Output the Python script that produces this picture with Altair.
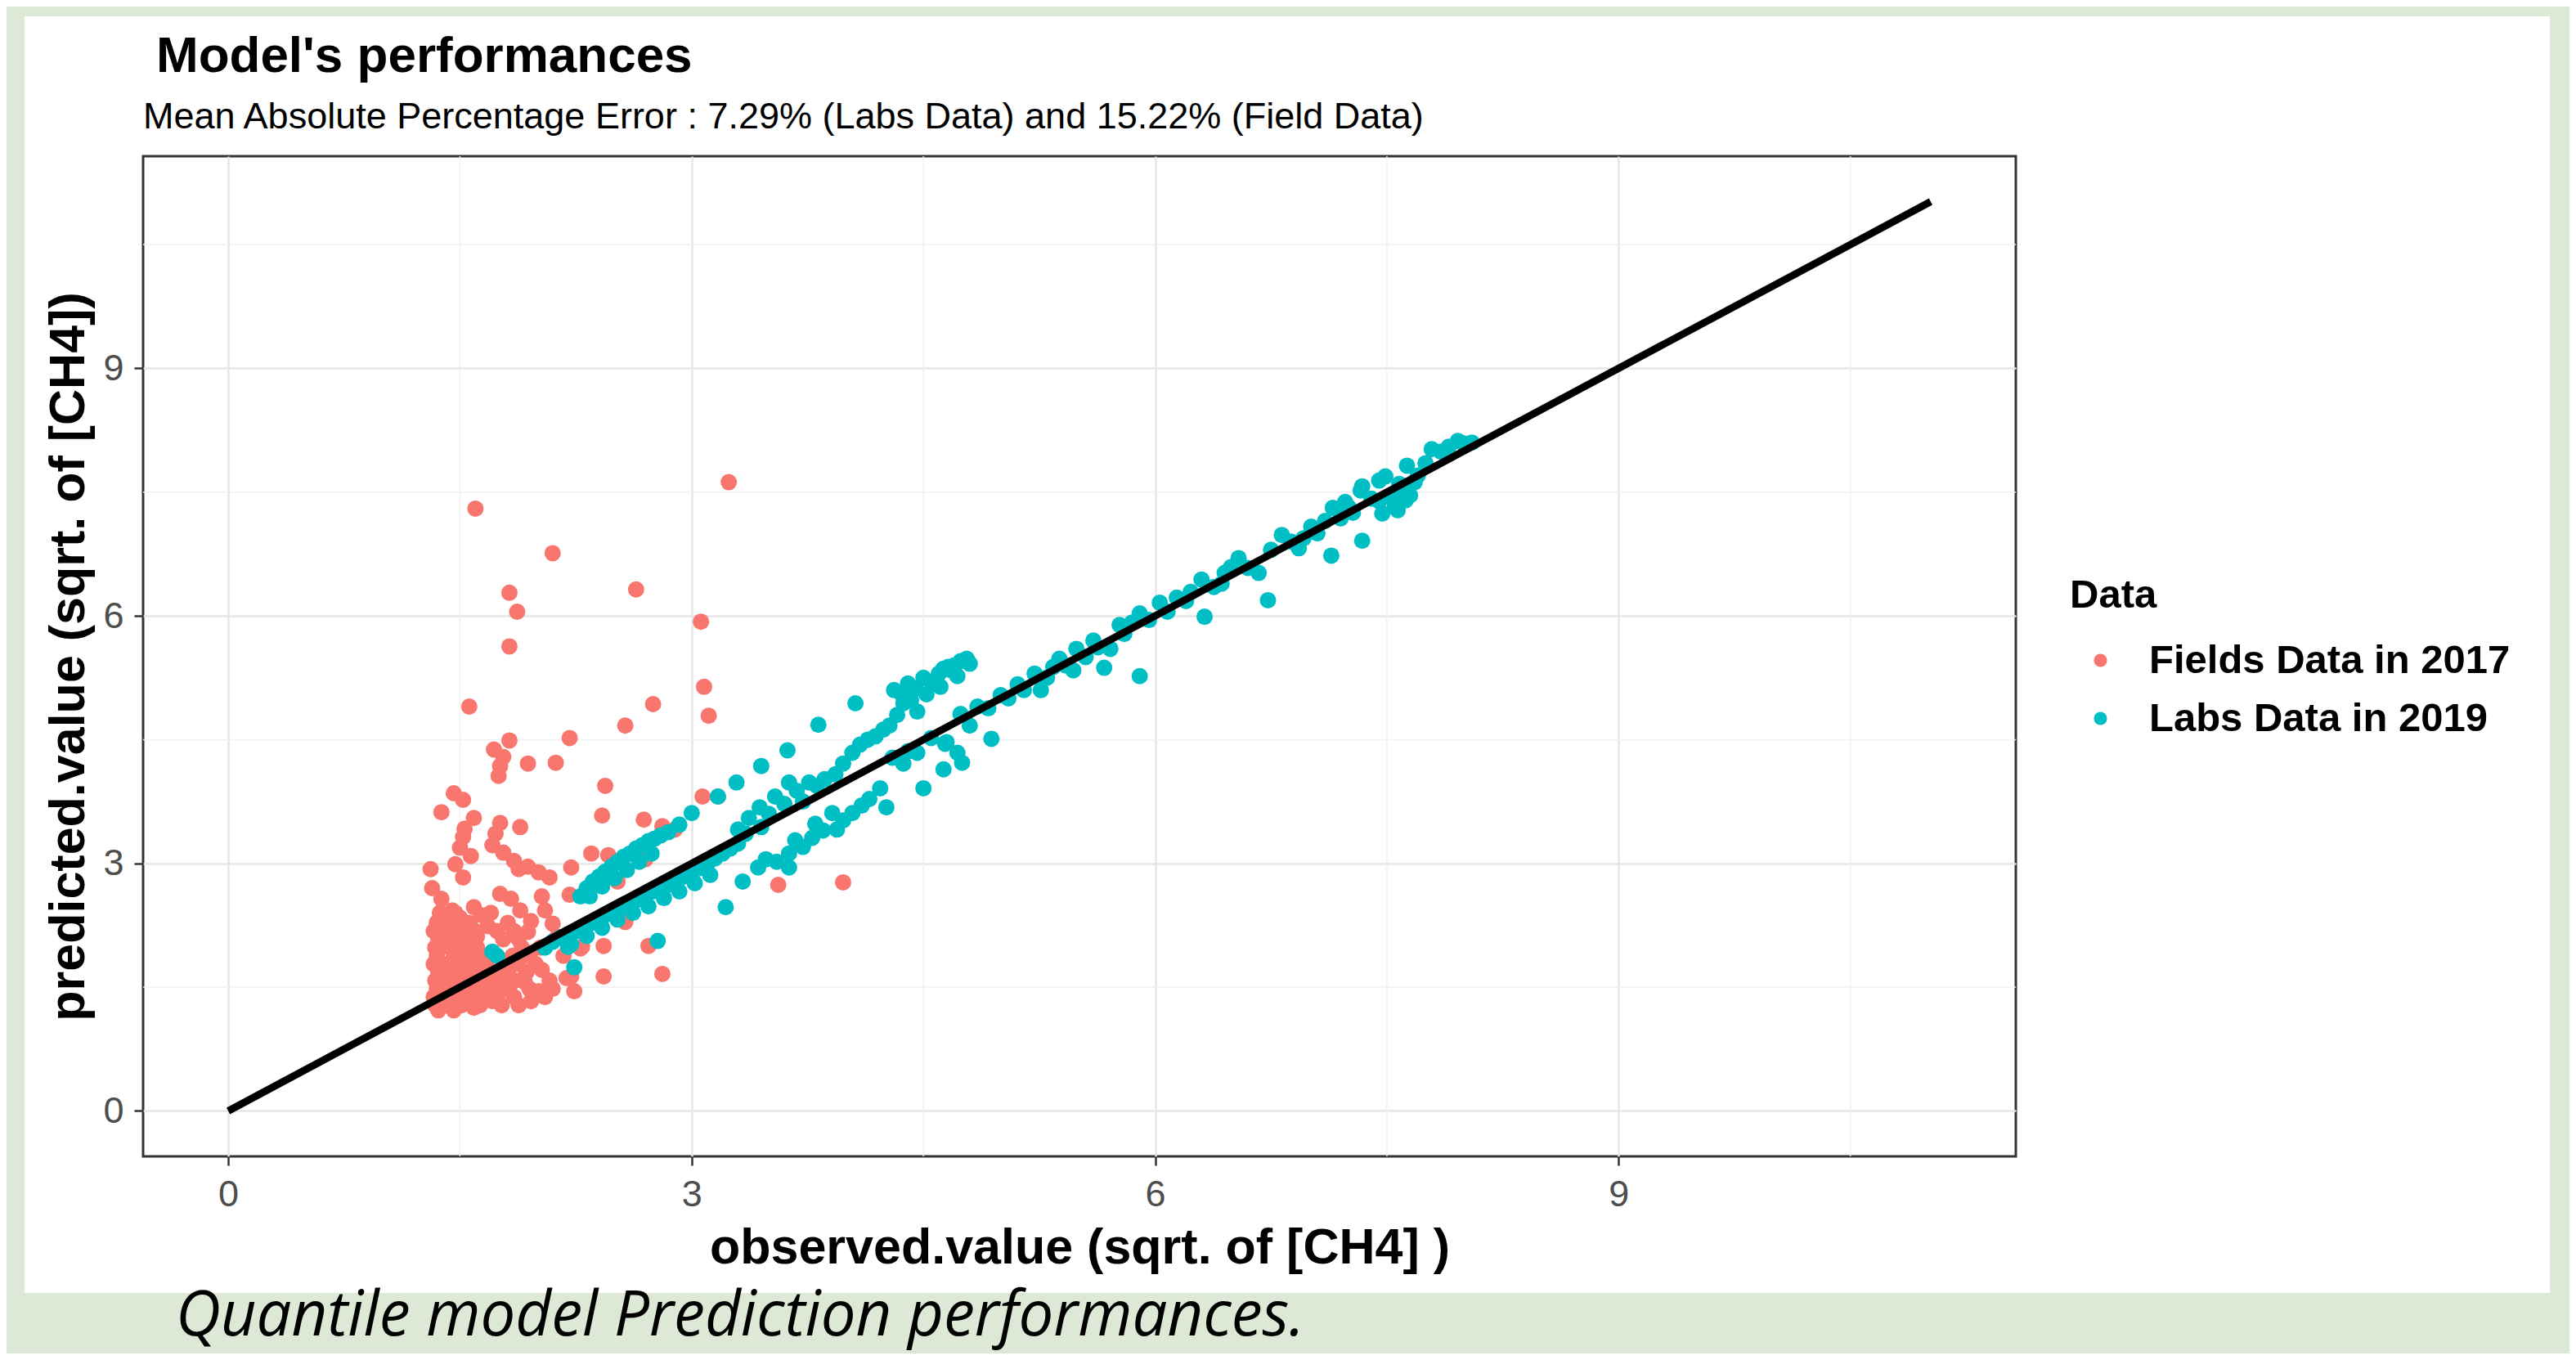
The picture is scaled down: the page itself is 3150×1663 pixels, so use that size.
import altair as alt
import pandas as pd

# ---------------- data ----------------
series_names = ["Fields Data in 2017", "Labs Data in 2019"]
series_colors = ["#F8766D", "#00BFC4"]

field_points = [
    (1.60, 7.30), (3.24, 7.62), (2.10, 6.76), (1.82, 6.28), (2.64, 6.32), (1.87, 6.05),
    (3.06, 5.93), (1.82, 5.63), (3.08, 5.14), (3.11, 4.79), (2.75, 4.93), (1.56, 4.90),
    (2.57, 4.67), (2.21, 4.52), (1.82, 4.49), (1.72, 4.38), (1.78, 4.29), (1.76, 4.18),
    (1.75, 4.06), (1.94, 4.21), (2.12, 4.22), (2.44, 3.94), (2.42, 3.58), (2.69, 3.53),
    (3.07, 3.81), (3.17, 3.81), (2.81, 3.45), (2.89, 3.41), (2.35, 3.12), (2.46, 3.10),
    (2.22, 2.95), (2.70, 3.05), (2.21, 2.62), (2.52, 2.78), (2.57, 2.29), (2.29, 1.99),
    (2.43, 2.00), (2.72, 2.00), (3.56, 2.74), (3.98, 2.77), (2.43, 1.63), (2.81, 1.66),
    (2.22, 1.63), (1.46, 3.85), (1.52, 3.77), (1.38, 3.62), (1.59, 3.55), (1.53, 3.42),
    (1.52, 3.32), (1.50, 3.19), (1.57, 3.09), (1.47, 2.99), (1.52, 2.83), (1.76, 3.49),
    (1.73, 3.36), (1.71, 3.22), (1.78, 3.13), (1.89, 3.44), (1.85, 3.03), (1.94, 2.96),
    (2.01, 2.89), (2.08, 2.83), (1.88, 2.93), (1.31, 2.93), (1.32, 2.70), (1.38, 2.57),
    (1.45, 2.43), (1.50, 2.34), (1.59, 2.47), (1.64, 2.37), (1.68, 2.24), (1.61, 2.11),
    (1.76, 2.63), (1.83, 2.57), (1.89, 2.43), (1.96, 2.30), (2.03, 2.60), (2.05, 2.43),
    (1.94, 2.17), (2.10, 2.27), (2.13, 2.11), (2.17, 1.88), (2.28, 1.97), (2.19, 1.61),
    (2.24, 1.45), (1.36, 1.22), (1.46, 1.22), (1.59, 1.25), (1.71, 1.33), (1.82, 1.46),
    (1.92, 1.56), (2.01, 1.45), (1.96, 1.33), (2.03, 1.71),
    (1.34, 1.28), (1.42, 1.28), (1.51, 1.28), (1.63, 1.28), (1.77, 1.28), (1.88, 1.28),
    (1.33, 1.38), (1.40, 1.38), (1.48, 1.38), (1.56, 1.38), (1.66, 1.38), (1.74, 1.38),
    (1.85, 1.38), (2.05, 1.38), (1.35, 1.48), (1.43, 1.48), (1.52, 1.48), (1.61, 1.48),
    (1.70, 1.48), (1.79, 1.48), (1.95, 1.48), (2.10, 1.48), (1.34, 1.58), (1.41, 1.58),
    (1.49, 1.58), (1.57, 1.58), (1.68, 1.58), (1.76, 1.58), (1.86, 1.58), (2.08, 1.58),
    (1.36, 1.68), (1.44, 1.68), (1.53, 1.68), (1.62, 1.68), (1.72, 1.68), (1.81, 1.68),
    (1.93, 1.68), (1.33, 1.78), (1.42, 1.78), (1.50, 1.78), (1.59, 1.78), (1.67, 1.78),
    (1.88, 1.78), (1.99, 1.78), (1.35, 1.88), (1.46, 1.88), (1.54, 1.88), (1.63, 1.88),
    (1.84, 1.88), (1.95, 1.88), (1.34, 1.98), (1.43, 1.98), (1.52, 1.98), (1.61, 1.98),
    (1.90, 1.98), (2.02, 1.98), (1.36, 2.08), (1.45, 2.08), (1.55, 2.08), (1.78, 2.08),
    (1.88, 2.08), (1.33, 2.18), (1.42, 2.18), (1.51, 2.18), (1.60, 2.18), (1.74, 2.18),
    (1.85, 2.18), (1.35, 2.28), (1.44, 2.28), (1.56, 2.28), (1.81, 2.28), (1.37, 2.40),
    (1.47, 2.40), (1.70, 2.40),
]

lab_points = [
    (1.71, 1.93), (1.74, 1.88), (2.24, 1.74), (2.20, 1.99), (2.78, 2.06),
    (2.28, 2.60), (2.32, 2.70), (2.36, 2.78), (2.40, 2.84), (2.44, 2.90), (2.48, 2.96),
    (2.52, 3.02), (2.56, 3.08), (2.60, 3.12), (2.64, 3.18), (2.68, 3.22), (2.72, 3.27),
    (2.76, 3.30), (2.80, 3.34), (2.85, 3.38), (2.34, 2.60), (2.42, 2.72), (2.50, 2.82),
    (2.58, 2.92), (2.66, 3.02), (2.74, 3.12),
    (2.92, 3.47), (3.00, 3.61), (3.17, 3.81), (3.29, 3.98), (3.45, 4.18), (3.62, 4.37),
    (3.82, 4.68), (4.06, 4.94),
    (3.30, 3.41), (3.37, 3.55), (3.44, 3.68), (3.54, 3.81), (3.63, 3.98), (3.72, 3.75),
    (3.81, 3.94), (3.93, 4.08), (3.98, 4.21), (3.50, 3.60), (3.60, 3.72), (3.68, 3.88),
    (3.76, 3.98), (3.86, 4.02),
    (4.04, 4.34), (4.09, 4.44), (4.19, 4.54), (4.28, 4.67), (4.37, 4.94), (4.46, 4.84),
    (4.31, 5.10), (4.36, 5.05), (4.40, 5.18), (4.45, 5.12), (4.50, 5.25), (4.55, 5.20),
    (4.60, 5.30), (4.63, 5.36), (4.66, 5.38), (4.70, 5.40), (4.74, 5.45), (4.78, 5.48),
    (4.80, 5.42), (4.72, 5.27), (4.68, 5.34), (4.61, 5.14), (4.52, 5.05), (4.42, 4.98),
    (4.33, 4.80), (4.24, 4.62), (4.14, 4.50),
    (4.37, 4.21), (4.46, 4.34), (4.63, 4.14), (4.65, 4.47), (4.72, 4.34), (4.80, 4.67),
    (4.64, 4.45), (4.75, 4.22), (4.94, 4.51), (4.74, 4.81), (4.50, 3.91), (4.30, 4.28),
    (4.40, 4.36), (4.55, 4.52), (3.35, 3.36), (3.45, 3.44),
    (4.22, 3.91), (4.26, 3.68), (4.15, 3.78), (4.04, 3.61), (3.94, 3.41), (3.91, 3.61),
    (3.80, 3.48), (3.78, 3.31), (3.67, 3.28), (3.63, 3.12), (3.63, 2.95), (3.48, 3.05),
    (3.43, 2.95), (3.33, 2.78), (3.22, 2.47), (4.10, 3.70), (3.98, 3.52), (3.85, 3.40),
    (3.72, 3.20), (3.55, 3.02),
    (2.05, 1.98), (2.10, 2.05), (2.15, 2.10), (2.20, 2.14), (2.25, 2.18), (2.30, 2.24),
    (2.35, 2.28), (2.40, 2.33), (2.45, 2.38), (2.50, 2.43), (2.55, 2.47), (2.60, 2.52),
    (2.65, 2.56), (2.70, 2.61), (2.75, 2.66), (2.80, 2.70), (2.85, 2.74), (2.90, 2.78),
    (2.95, 2.84), (3.00, 2.89), (3.05, 2.94), (3.10, 2.99), (3.15, 3.06), (3.20, 3.12),
    (3.25, 3.18), (3.30, 3.24), (2.22, 2.02), (2.32, 2.12), (2.42, 2.22), (2.52, 2.32),
    (2.62, 2.40), (2.72, 2.48), (2.82, 2.58), (2.92, 2.66), (3.02, 2.76), (3.12, 2.86),
    (5.00, 5.04), (5.11, 5.17), (5.22, 5.30), (5.26, 5.10), (5.38, 5.48), (5.49, 5.60),
    (5.47, 5.34), (5.60, 5.70), (5.67, 5.37), (5.71, 5.60), (5.77, 5.89), (5.90, 5.27),
    (5.90, 6.03), (6.03, 6.16), (6.14, 6.22), (6.23, 6.29), (6.30, 6.44), (6.32, 5.99),
    (6.43, 6.39), (6.54, 6.70), (6.49, 6.59), (6.67, 6.52), (6.73, 6.19), (6.82, 6.98),
    (6.93, 6.82), (7.01, 7.08), (7.14, 6.73), (7.15, 7.31), (7.23, 7.38), (7.34, 6.91),
    (7.34, 7.57), (7.45, 7.64), (7.47, 7.24),
    (4.85, 4.90), (4.92, 4.88), (5.05, 5.00), (5.15, 5.10), (5.30, 5.25), (5.34, 5.38),
    (5.42, 5.40), (5.55, 5.50), (5.63, 5.62), (5.80, 5.78), (5.85, 5.92), (5.96, 5.95),
    (6.08, 6.05), (6.20, 6.18), (6.38, 6.35), (6.45, 6.52), (6.60, 6.58), (6.75, 6.80),
    (6.88, 6.90), (6.96, 6.94), (7.05, 7.00), (7.10, 7.15), (7.20, 7.18), (7.28, 7.25),
    (7.40, 7.42),
    (7.33, 7.52), (7.49, 7.69), (7.63, 7.82), (7.79, 8.02), (7.96, 8.12), (7.55, 7.32),
    (7.65, 7.46), (7.45, 7.39), (7.25, 7.32), (7.85, 7.99), (8.00, 8.09), (7.58, 7.60),
    (7.70, 7.70), (7.60, 7.50), (7.52, 7.45), (7.68, 7.62), (7.75, 7.85), (7.90, 8.05),
    (8.05, 8.10), (7.62, 7.40), (7.57, 7.28),
]

line_obs = [0.0, 11.02]
line_pred = [0.0, 11.02]
major_breaks = [0, 3, 6, 9]
minor_breaks = [1.5, 4.5, 7.5, 10.5]
axis_domain = [-0.551, 11.571]

title_text = "Model's performances"
subtitle_text = "Mean Absolute Percentage Error : 7.29% (Labs Data) and 15.22% (Field Data)"
caption_text = "Quantile model Prediction performances."
x_title = "observed.value (sqrt. of [CH4] )"
y_title = "predicted.value (sqrt. of [CH4])"

# ---------------- tables ----------------
pts_df = pd.DataFrame(
    [{"obs": a, "pred": b, "Data": series_names[0]} for a, b in field_points]
    + [{"obs": a, "pred": b, "Data": series_names[1]} for a, b in lab_points]
)
line_df = pd.DataFrame({"obs": line_obs, "pred": line_pred})
minor_df = pd.DataFrame({"obs": minor_breaks, "pred": minor_breaks})

FONT = "Liberation Sans"
GREEN = "#dde8d6"

xs = alt.Scale(domain=axis_domain, nice=False, zero=False)
ys = alt.Scale(domain=axis_domain, nice=False, zero=False)
x_axis = alt.Axis(values=major_breaks, title=x_title, labelPadding=13, titlePadding=13)
y_axis = alt.Axis(values=major_breaks, title=y_title, labelPadding=13, titlePadding=10)

X = alt.X("obs:Q", scale=xs, axis=x_axis)
Y = alt.Y("pred:Q", scale=ys, axis=y_axis)

vminor = alt.Chart(minor_df).mark_rule(color="#f1f1f1", strokeWidth=1.5).encode(x=X)
hminor = alt.Chart(minor_df).mark_rule(color="#f1f1f1", strokeWidth=1.5).encode(y=Y)

pts = alt.Chart(pts_df).mark_circle(size=400, opacity=1).encode(
    x=X, y=Y,
    color=alt.Color("Data:N",
                    scale=alt.Scale(domain=series_names, range=series_colors),
                    legend=alt.Legend(
                        title="Data", orient="none", legendX=2356, legendY=513,
                        titleFont=FONT, titleFontSize=49, titleFontWeight="bold",
                        titleColor="black", titlePadding=30,
                        labelFont=FONT, labelFontSize=49, labelFontWeight="bold",
                        labelColor="black", labelLimit=0, symbolType="circle",
                        symbolSize=260, symbolStrokeWidth=0, symbolOffset=13,
                        labelOffset=35, rowPadding=21, padding=0)),
)

line = alt.Chart(line_df).mark_line(color="black", strokeWidth=9).encode(x=X, y=Y)

title_t = alt.Chart(pd.DataFrame({"t": [title_text]})).mark_text(
    align="left", baseline="alphabetic", font=FONT, fontSize=62,
    fontWeight="bold", color="black"
).encode(text="t:N", x=alt.value(16), y=alt.value(-103))

sub_t = alt.Chart(pd.DataFrame({"t": [subtitle_text]})).mark_text(
    align="left", baseline="alphabetic", font=FONT, fontSize=45, color="black"
).encode(text="t:N", x=alt.value(0), y=alt.value(-34))

frame = alt.Chart(pd.DataFrame({"a": [0]})).mark_rect(
    fillOpacity=0, stroke=GREEN, strokeWidth=200
).encode(x=alt.value(-245), x2=alt.value(3043), y=alt.value(-271), y2=alt.value(1490))

caption_t = alt.Chart(pd.DataFrame({"t": [caption_text]})).mark_text(
    align="left", baseline="alphabetic", font="Open Sans", fontSize=76,
    fontStyle="italic", color="black"
).encode(text="t:N", x=alt.value(40), y=alt.value(1442))

chart = alt.layer(
    vminor, hminor, pts, line, title_t, sub_t, frame, caption_t
).properties(
    width=2290, height=1223,
    autosize=alt.AutoSizeParams(type="none"),
    padding={"left": 167, "top": 183, "right": 677, "bottom": 241},
    background="white",
).configure_view(
    stroke="#333333", strokeWidth=3
).configure_axis(
    grid=True, gridColor="#e6e6e6", gridWidth=2.5,
    domain=False, tickColor="#333333", tickWidth=2.5, tickSize=11,
    labelFont=FONT, labelFontSize=45, labelColor="#4d4d4d",
    titleFont=FONT, titleFontSize=61, titleFontWeight="bold", titleColor="black",
)

chart.save("out.html", embed_options={"renderer": "svg", "actions": False})
